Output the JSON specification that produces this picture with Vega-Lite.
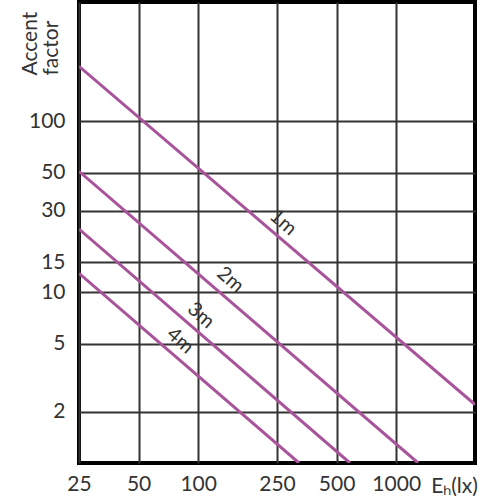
{
  "$schema": "https://vega.github.io/schema/vega-lite/v6.json",
  "width": 396,
  "height": 461,
  "autosize": {"type": "none"},
  "padding": {"left": 79, "top": 2, "right": 25, "bottom": 37},
  "background": "white",
  "config": {
    "view": {"stroke": "#000", "strokeWidth": 4},
    "font": "Lato",
    "axis": {
      "labelFont": "Lato", "titleFont": "Lato",
      "labelFontSize": 21, "titleFontSize": 21,
      "labelColor": "#333", "titleColor": "#333",
      "labelFontWeight": "normal", "titleFontWeight": "normal",
      "domain": false, "ticks": false,
      "gridColor": "#333", "gridWidth": 2, "gridOpacity": 1
    }
  },
  "datasets": {
    "lines": [
      {"d": "1m", "E": 25, "v": 210},
      {"d": "1m", "E": 2500, "v": 2.2},
      {"d": "2m", "E": 25, "v": 51},
      {"d": "2m", "E": 1290, "v": 1},
      {"d": "3m", "E": 25, "v": 23.4},
      {"d": "3m", "E": 584, "v": 1},
      {"d": "4m", "E": 25, "v": 12.9},
      {"d": "4m", "E": 323, "v": 1}
    ],
    "labels": [
      {"d": "1m", "E": 268, "v": 25.6},
      {"d": "2m", "E": 145, "v": 11.8},
      {"d": "3m", "E": 103, "v": 7.3},
      {"d": "4m", "E": 81, "v": 5.2}
    ]
  },
  "layer": [
    {
      "data": {"name": "lines"},
      "mark": {"type": "line", "color": "#a9539a", "strokeWidth": 3, "clip": true},
      "encoding": {
        "x": {
          "field": "E", "type": "quantitative",
          "scale": {"type": "log", "domain": [25, 2500], "nice": false},
          "axis": {
            "values": [25, 50, 100, 250, 500, 1000],
            "format": "d",
            "labelPadding": 10,
            "labelFlush": false,
            "title": "Eₕ(lx)",
            "titleX": 375, "titleY": 29,
            "titleAlign": "center", "titleBaseline": "alphabetic"
          }
        },
        "y": {
          "field": "v", "type": "quantitative",
          "scale": {"type": "log", "domain": [1, 500], "nice": false},
          "axis": {
            "values": [2, 5, 10, 15, 30, 50, 100],
            "format": "d",
            "labelPadding": 14,
            "labelFlush": false,
            "title": ["Accent", "factor"],
            "titleAngle": -90,
            "titleAlign": "left",
            "titleBaseline": "top",
            "titleLineHeight": 21,
            "titleX": -60, "titleY": 73
          }
        },
        "detail": {"field": "d"}
      }
    },
    {
      "data": {"name": "labels"},
      "mark": {"type": "text", "angle": 41, "fontSize": 20, "font": "Lato", "color": "#333", "align": "center", "baseline": "middle"},
      "encoding": {
        "x": {"field": "E", "type": "quantitative"},
        "y": {"field": "v", "type": "quantitative"},
        "text": {"field": "d"}
      }
    }
  ]
}
